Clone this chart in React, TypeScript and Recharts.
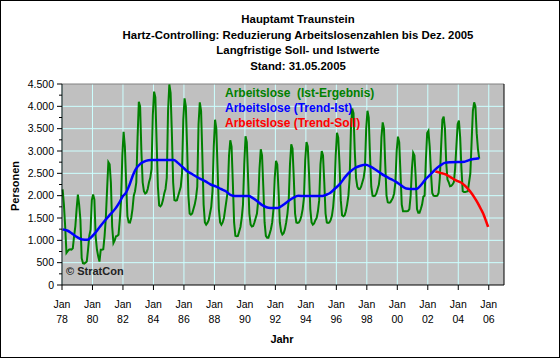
import React from "react";
import { CartesianGrid, Line, LineChart, ReferenceLine, XAxis, YAxis } from "recharts";

// Arbeitslose (Ist-Ergebnis), Monatswerte Jan..Dez, ab 1978
const istWerte: number[][] = [
    [2140, 1800, 1310, 720, 760, 790, 800, 790, 820, 1090, 1310, 1700], // 1978
    [2025, 1800, 1460, 600, 490, 480, 500, 525, 790, 1100, 1240, 1900], // 1979
    [2025, 1910, 1090, 800, 640, 525, 790, 790, 800, 1090, 1500, 2140], // 1980
    [2750, 2700, 2290, 1310, 940, 1000, 1090, 1100, 1125, 1460, 1900, 2890], // 1981
    [3430, 3100, 2300, 1540, 1400, 1395, 1500, 1700, 2000, 2100, 2300, 3300], // 1982
    [4100, 4000, 3000, 2300, 2100, 2050, 2070, 2150, 2300, 2400, 2600, 3800], // 1983
    [4330, 4200, 3200, 2200, 1780, 1760, 1800, 1900, 2050, 2150, 2400, 3900], // 1984
    [4490, 4300, 3400, 2300, 1900, 1890, 1900, 2000, 2100, 2200, 2500, 3700], // 1985
    [4180, 4000, 3100, 2000, 1600, 1575, 1600, 1700, 1800, 1950, 2200, 3600], // 1986
    [4090, 3900, 2900, 1800, 1400, 1350, 1390, 1450, 1600, 1750, 2100, 3100], // 1987
    [3700, 3500, 2600, 1700, 1400, 1350, 1400, 1500, 1700, 1900, 2100, 2900], // 1988
    [3240, 3100, 2300, 1400, 1100, 1090, 1100, 1200, 1300, 1500, 1800, 2700], // 1989
    [3330, 3200, 2400, 1600, 1350, 1310, 1320, 1400, 1500, 1600, 1900, 2600], // 1990
    [3040, 2900, 2200, 1400, 1100, 1060, 1060, 1150, 1250, 1400, 1700, 2400], // 1991
    [2780, 2700, 2100, 1400, 1200, 1130, 1160, 1250, 1400, 1600, 1900, 2700], // 1992
    [3150, 3050, 2400, 1600, 1400, 1390, 1400, 1450, 1550, 1700, 1950, 2800], // 1993
    [3200, 3100, 2500, 1700, 1400, 1350, 1380, 1450, 1500, 1650, 1900, 2700], // 1994
    [3000, 2900, 2300, 1600, 1400, 1390, 1400, 1450, 1550, 1750, 2100, 2900], // 1995
    [3410, 3300, 2700, 1900, 1560, 1540, 1560, 1650, 1800, 2000, 2400, 3500], // 1996
    [3950, 3850, 3000, 2400, 2200, 2150, 2150, 2200, 2300, 2400, 2600, 3500], // 1997
    [3900, 3750, 2900, 2200, 2000, 1990, 2000, 2050, 2150, 2250, 2500, 3300], // 1998
    [3640, 3500, 2700, 2000, 1850, 1840, 1850, 1900, 1950, 2050, 2300, 3000], // 1999
    [3320, 3200, 2500, 1800, 1650, 1650, 1650, 1650, 1660, 1700, 2000, 2600], // 2000
    [2960, 2900, 2400, 1700, 1620, 1620, 1700, 1800, 1980, 2000, 2800, 3400], // 2001
    [3450, 3100, 2510, 2060, 2000, 1990, 1990, 2000, 2060, 2400, 3110, 3700], // 2002
    [3770, 3500, 2740, 2360, 2300, 2210, 2220, 2250, 2300, 2600, 3100, 3600], // 2003
    [3680, 3300, 2600, 2100, 2080, 2080, 2090, 2100, 2300, 2500, 3200, 3900], // 2004
    [4090, 4000, 3400, 3040, 2830], // 2005
];

// Trend-Ist: Position in Monaten ab Jan 78, Wert
const trendIstMonat = [
    0.5, 4, 8, 12, 16, 20, 23, 26, 30, 34, 38, 42, 45, 48, 50, 53, 56, 58, 62, 66, 70, 88, 91, 95, 98,
    102, 108, 113, 117, 121, 125, 129, 133, 136, 147, 150, 153, 157, 161, 164, 170, 174, 178, 182, 186,
    191, 205, 208, 211, 215, 219, 223, 227, 231, 235, 239, 243, 247, 251, 255, 259, 263, 267, 271, 274,
    279, 283, 286, 290, 294, 298, 302, 306, 317, 320, 324, 328.5,
];
const trendIstWert = [
    1240, 1220, 1150, 1070, 1020, 1015, 1070, 1160, 1310, 1450, 1580, 1710, 1840, 1990, 2050, 2230, 2470,
    2590, 2720, 2780, 2800, 2800, 2740, 2640, 2560, 2490, 2390, 2320, 2250, 2210, 2150, 2100, 2010, 1990,
    1990, 1950, 1890, 1800, 1740, 1725, 1725, 1790, 1875, 1950, 2000, 1990, 1990, 2020, 2060, 2160, 2270,
    2420, 2540, 2625, 2670, 2690, 2650, 2580, 2500, 2430, 2370, 2310, 2230, 2160, 2150, 2150, 2250, 2360,
    2470, 2590, 2680, 2740, 2750, 2760, 2790, 2820, 2840,
];

// Trend-Soll bis Dez. 2005
const trendSollMonat = [294, 298, 302, 305.5, 309, 312, 315, 318, 320, 322, 324, 326, 328, 330, 332, 334, 335.5];
const trendSollWert = [2540, 2510, 2475, 2420, 2360, 2320, 2280, 2200, 2140, 2070, 1990, 1900, 1800, 1690, 1575, 1420, 1300];

const xTicks = [0, 24, 48, 72, 96, 120, 144, 168, 192, 216, 240, 264, 288, 312, 336];
const xTickLabels = ["78", "80", "82", "84", "86", "88", "90", "92", "94", "96", "98", "00", "02", "04", "06"];
const yTicks = [0, 250, 500, 750, 1000, 1250, 1500, 1750, 2000, 2250, 2500, 2750, 3000, 3250, 3500, 3750, 4000, 4250, 4500];
const gridWerte = [500, 1000, 1500, 2000, 2500, 3000, 3500, 4000];

const istData = istWerte.flatMap((row, yi) => row.map((v, m) => ({ x: yi * 12 + m + 0.5, v })));
const trendIstData = trendIstMonat.map((x, i) => ({ x, v: trendIstWert[i] }));
const trendSollData = trendSollMonat.map((x, i) => ({ x, v: trendSollWert[i] }));

const FONT = "'Liberation Sans', Arial, sans-serif";
const TS = 5;

const fmt = (v: number) => (v >= 1000 ? `${Math.floor(v / 1000)}.${String(v % 1000).padStart(3, "0")}` : String(v));

const XTick = (props: any) => {
    const { x, y, payload } = props;
    const i = xTicks.indexOf(payload.value);
    return (
        <text x={x} y={y} textAnchor="middle" fontSize={10.5} fill="#000" fontFamily={FONT}>
            <tspan x={x} dy={15.5}>Jan</tspan>
            <tspan x={x} dy={15.5}>{xTickLabels[i]}</tspan>
        </text>
    );
};

const LeftTick = (props: any) => {
    const { x, y, payload } = props;
    const major = payload.value % 500 === 0;
    const axisX = x + TS + 3;
    return (
        <g>
            <line x1={axisX - (major ? TS : 3)} x2={axisX} y1={y} y2={y} stroke="#000" />
            {major && (
                <text x={x} y={y} dy="0.35em" textAnchor="end" fontSize={10.5} fill="#000" fontFamily={FONT}>
                    {fmt(payload.value)}
                </text>
            )}
        </g>
    );
};

const RightTick = (props: any) => {
    const { x, y, payload } = props;
    const major = payload.value % 500 === 0;
    const axisX = x - TS - 5;
    return (
        <g>
            <line x1={axisX} x2={axisX + (major ? TS : 3)} y1={y} y2={y} stroke="#000" />
            {major && (
                <text x={x} y={y} dy="0.35em" textAnchor="start" fontSize={10.5} fill="#000" fontFamily={FONT}>
                    {fmt(payload.value)}
                </text>
            )}
        </g>
    );
};

const abs = (style: React.CSSProperties): React.CSSProperties => ({
    position: "absolute",
    fontFamily: FONT,
    fontWeight: "bold",
    whiteSpace: "nowrap",
    ...style,
});

export default function App() {
    return (
        <div style={{ position: "absolute", left: 0, top: 0, width: 560, height: 358, background: "#fff" }}>
            <LineChart width={560} height={358} margin={{ top: 84, right: 0, bottom: 0, left: 0 }}>
                <CartesianGrid
                    stroke="#CCFFFF"
                    fill="#C0C0C0"
                    fillOpacity={1}
                    horizontalValues={gridWerte}
                    verticalValues={xTicks}
                />
                <XAxis
                    type="number"
                    dataKey="x"
                    domain={[0, 348]}
                    ticks={xTicks}
                    interval={0}
                    height={73}
                    tickSize={TS}
                    tickMargin={2}
                    axisLine={{ stroke: "#000" }}
                    tickLine={{ stroke: "#000" }}
                    tick={<XTick />}
                />
                <YAxis
                    type="number"
                    domain={[0, 4500]}
                    ticks={yTicks}
                    interval={0}
                    width={62}
                    tickSize={TS}
                    tickMargin={3}
                    axisLine={{ stroke: "#000" }}
                    tickLine={false}
                    tick={<LeftTick />}
                />
                <YAxis
                    yAxisId="right"
                    orientation="right"
                    type="number"
                    domain={[0, 4500]}
                    ticks={yTicks}
                    interval={0}
                    width={56}
                    tickSize={TS}
                    tickMargin={5}
                    axisLine={{ stroke: "#000" }}
                    tickLine={false}
                    tick={<RightTick />}
                />
                <ReferenceLine y={4500} stroke="#808080" />
                <Line data={istData} dataKey="v" type="linear" stroke="#008000" strokeWidth={2} dot={false} isAnimationActive={false} />
                <Line data={trendIstData} dataKey="v" type="monotone" stroke="#0000FF" strokeWidth={2.5} dot={false} isAnimationActive={false} />
                <Line data={trendSollData} dataKey="v" type="monotone" stroke="#FF0000" strokeWidth={2.5} dot={false} isAnimationActive={false} />
            </LineChart>

            <div style={abs({ left: 0, width: 596, top: 12, fontSize: 11.4, lineHeight: "15.5px", textAlign: "center", color: "#000" })}>
                <div>Hauptamt Traunstein</div>
                <div>Hartz-Controlling: Reduzierung Arbeitslosenzahlen bis Dez. 2005</div>
                <div>Langfristige Soll- und Istwerte</div>
                <div>Stand: 31.05.2005</div>
            </div>

            <div style={abs({ left: 225, top: 86, fontSize: 12, lineHeight: "15px" })}>
                <div style={{ color: "#008000", whiteSpace: "pre" }}>Arbeitslose  (Ist-Ergebnis)</div>
                <div style={{ color: "#0000FF" }}>Arbeitslose (Trend-Ist)</div>
                <div style={{ color: "#FF0000" }}>Arbeitslose (Trend-Soll)</div>
            </div>

            <div style={abs({ left: 66, top: 264.5, fontSize: 11, lineHeight: "13px", color: "#222" })}>© StratCon</div>

            <div
                style={abs({
                    left: 15,
                    top: 186,
                    fontSize: 11,
                    lineHeight: "13px",
                    transform: "translate(-50%, -50%) rotate(-90deg)",
                })}
            >
                Personen
            </div>

            <div style={abs({ left: 282, top: 339, fontSize: 11, lineHeight: "13px", transform: "translate(-50%, -50%)" })}>
                Jahr
            </div>

            <div
                style={{
                    position: "absolute",
                    left: 0,
                    top: 0,
                    width: 560,
                    height: 358,
                    border: "1px solid #000",
                    boxSizing: "border-box",
                    pointerEvents: "none",
                }}
            />
        </div>
    );
}
